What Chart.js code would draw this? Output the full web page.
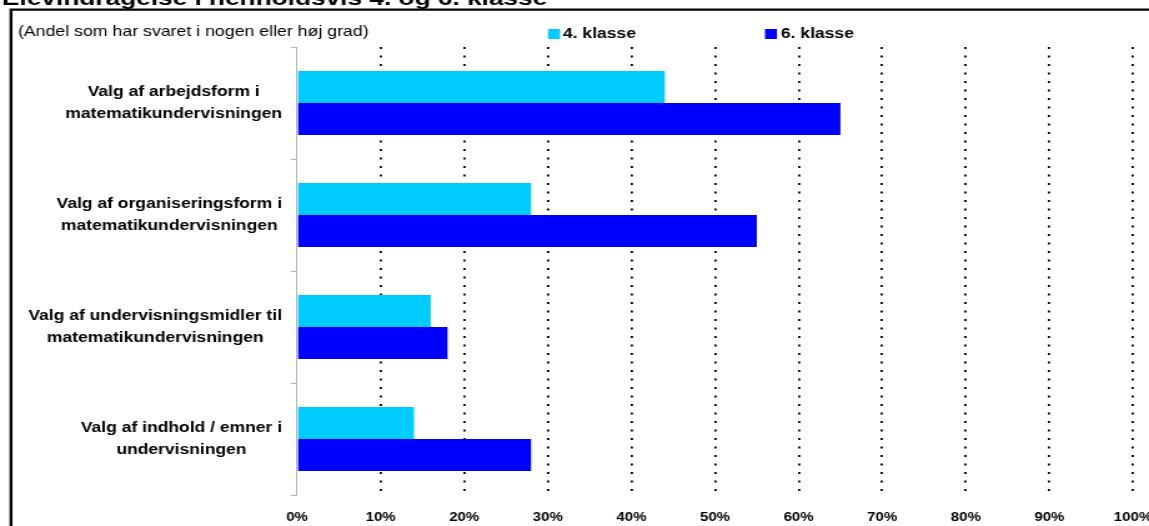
<!DOCTYPE html>
<html lang="da">
<head>
<meta charset="utf-8">
<title>Elevindragelse i henholdsvis 4. og 6. klasse</title>
<script src="https://cdn.jsdelivr.net/npm/chart.js@4/dist/chart.umd.min.js"></script>
<style>
  html, body { margin: 0; padding: 0; background: #fff; overflow: hidden; }
  /* the chart is laid out at 920px and widened to fill the 1149px page */
  #wrap { position: relative; width: 920px; height: 526px; transform: scaleX(1.248913); transform-origin: 0 0; }
</style>
</head>
<body>
<div id="wrap"><canvas id="chart"></canvas></div>
<script>
// ---- data ----
const titleText = 'Elevindragelse i henholdsvis 4. og 6. klasse';
const subtitleText = '(Andel som har svaret i nogen eller høj grad)';
const categories = [
  ['Valg af arbejdsform i', 'matematikundervisningen'],
  ['Valg af organiseringsform i', 'matematikundervisningen'],
  ['Valg af undervisningsmidler til', 'matematikundervisningen'],
  ['Valg af indhold / emner i', 'undervisningen']
];
const seriesNames = ['4. klasse', '6. klasse'];
const klasse4 = [44, 28, 16, 14];
const klasse6 = [65, 55, 18, 28];
const xTickStep = 10;
const xMax = 100;

// ---- styling ----
const FONT = '"Liberation Sans", Arial, Helvetica, sans-serif';
const colors = ['#00CCFF', '#0000FF'];

// frame, title, subtitle, legend and the two-line category labels
const decorations = {
  id: 'decorations',
  beforeDraw(chart) {
    const ctx = chart.ctx;
    ctx.save();
    ctx.fillStyle = '#fff';
    ctx.fillRect(0, 0, chart.width, chart.height);
    // outer frame (top and left edges)
    ctx.strokeStyle = '#000';
    ctx.lineWidth = 2.4;
    ctx.beginPath();
    ctx.moveTo(8.8, chart.height + 5);
    ctx.lineTo(8.8, 9.6);
    ctx.lineTo(chart.width + 5, 9.6);
    ctx.stroke();
    ctx.restore();
  },
  afterDraw(chart) {
    const ctx = chart.ctx;
    ctx.save();
    ctx.fillStyle = '#000';
    // title
    ctx.font = 'bold 21px ' + FONT;
    ctx.textAlign = 'left';
    ctx.textBaseline = 'alphabetic';
    ctx.fillText(titleText, 1.6, 5);
    // subtitle
    ctx.font = '14.2px ' + FONT;
    ctx.textBaseline = 'middle';
    ctx.fillText(subtitleText, 14.4, 32);
    // legend
    const legendPos = [[438.8, 450.8], [612.5, 625.3]];
    ctx.font = 'bold 14px ' + FONT;
    chart.data.datasets.forEach((ds, i) => {
      const [bx, tx] = legendPos[i];
      ctx.fillStyle = ds.backgroundColor;
      ctx.fillRect(bx, 29, 9.6, 10);
      ctx.fillStyle = '#000';
      ctx.fillText(ds.label, tx, 34);
    });
    // category labels: block right-aligned to the axis, lines centred in the block
    const y = chart.scales.y;
    ctx.font = 'bold 14px ' + FONT;
    ctx.textAlign = 'center';
    const rightEdge = 225.8;
    const lineH = 22;
    chart.data.labels.forEach((lines, i) => {
      const cy = y.getPixelForValue(i);
      const w = Math.max(...lines.map(l => ctx.measureText(l).width));
      const cx = rightEdge - w / 2;
      const y0 = cy - (lines.length - 1) * lineH / 2;
      lines.forEach((l, k) => ctx.fillText(l, cx, y0 + k * lineH));
    });
    ctx.restore();
  }
};

new Chart(document.getElementById('chart'), {
  type: 'bar',
  data: {
    labels: categories,
    datasets: [
      { label: seriesNames[0], data: klasse4, backgroundColor: colors[0], borderWidth: 0,
        categoryPercentage: 0.5714, barPercentage: 1.0 },
      { label: seriesNames[1], data: klasse6, backgroundColor: colors[1], borderWidth: 0,
        categoryPercentage: 0.5714, barPercentage: 1.0 }
    ]
  },
  options: {
    indexAxis: 'y',
    responsive: true,
    maintainAspectRatio: false,
    animation: false,
    layout: { padding: { top: 47, right: 0, bottom: 0, left: 0 } },
    plugins: { legend: { display: false }, tooltip: { enabled: false }, title: { display: false } },
    scales: {
      x: {
        min: 0,
        max: xMax,
        ticks: {
          stepSize: xTickStep,
          autoSkip: false,
          maxRotation: 0,
          padding: 15,
          color: '#000',
          font: { family: FONT, size: 12, weight: 'bold' },
          callback: v => v + '%'
        },
        grid: {
          color: c => (c.index === 0 ? 'rgba(0,0,0,0)' : '#000'),
          lineWidth: 1.8,
          drawTicks: false,
          borderDash: [2, 6.5]
        },
        border: { display: false, dash: [2, 6.5] },
        afterFit(scale) {
          scale.height = 31;
          scale.paddingRight = 12.8;
          scale.paddingLeft = 0;
        }
      },
      y: {
        ticks: { display: false },
        grid: {
          drawOnChartArea: false,
          drawTicks: true,
          tickLength: 5,
          color: '#b3b3b3',
          offset: true
        },
        border: { display: true, color: '#b3b3b3', width: 1 },
        afterFit(scale) {
          scale.width = 237.8;
          scale.paddingTop = 0;
          scale.paddingBottom = 0;
        }
      }
    }
  },
  plugins: [decorations]
});
</script>
</body>
</html>
